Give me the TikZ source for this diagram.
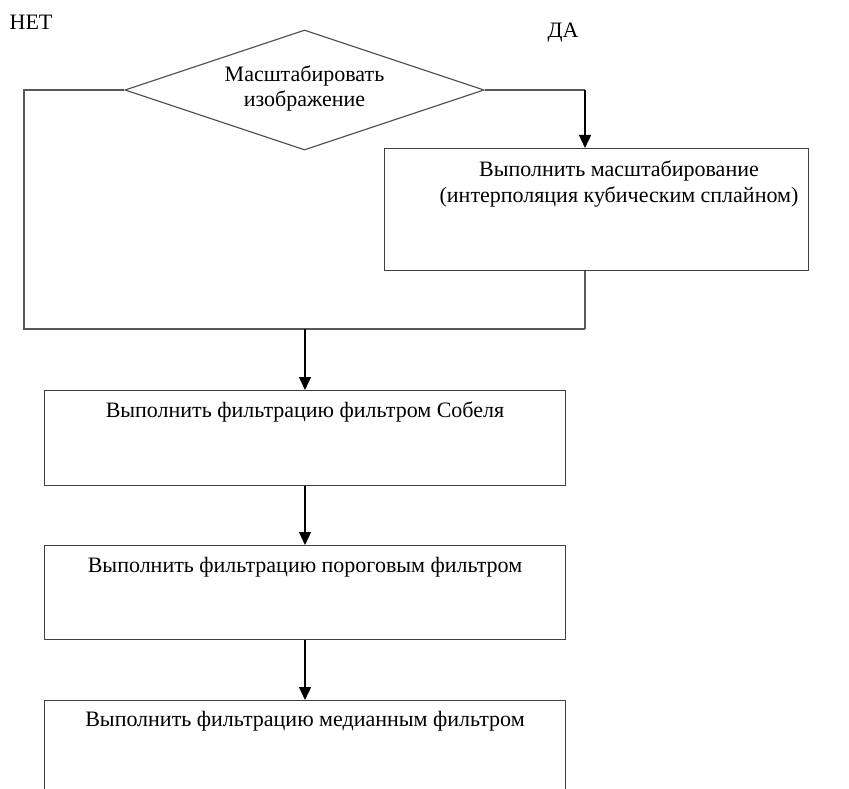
\documentclass[tikz,border=0pt]{standalone}
\usepackage{fontspec}
\setmainfont{Liberation Serif}
\usetikzlibrary{shapes.geometric,arrows.meta}
\begin{document}
\begin{tikzpicture}[x=1pt,y=-1pt,
  ln/.style={draw=black!65,line width=1.3pt},
  arr/.style={draw=black,line width=1.3pt,-{Triangle[length=13pt,width=12pt]}},
  box/.style={draw=black!75,line width=1.3pt,rectangle,inner sep=0pt,anchor=north west},
  txt/.style={font=\fontsize{22}{25}\selectfont,align=center,inner sep=0pt},
  dia/.style={draw=black!70,line width=1.1pt,diamond,inner sep=0pt,minimum width=359pt,minimum height=120pt}]
\useasboundingbox (0,0) rectangle (849,789);
\clip (0,0) rectangle (849,789);
\node[txt] (net) at (31,22) {НЕТ};
\node[txt] (da) at (563,33) {ДА};
\node[dia] (d) at (304.5,90) {};
\node[txt] (dt) at (304.5,88) {Масштабировать\\изображение};
\node[box,minimum width=424pt,minimum height=122pt] (b1) at (384,148) {};
\node[txt] (t1) at (619,184) {Выполнить масштабирование\\(интерполяция кубическим сплайном)};
\coordinate (L1) at (24,90);
\coordinate (L2) at (24,329);
\coordinate (R1) at (585,90);
\coordinate (R2) at (585,329);
\coordinate (M) at (305,329);
\node[box,minimum width=521pt,minimum height=95pt] (b2) at (44,390) {};
\node[txt] (t2) at (305,412) {Выполнить фильтрацию фильтром Собеля};
\node[box,minimum width=521pt,minimum height=94pt] (b3) at (44,545) {};
\node[txt] (t3) at (305,567) {Выполнить фильтрацию пороговым фильтром};
\node[box,minimum width=521pt,minimum height=120pt] (b4) at (44,700) {};
\node[txt] (t4) at (305,721) {Выполнить фильтрацию медианным фильтром};
\draw[ln] (d.west) -- (L1) -- (L2) -- (R2);
\draw[ln] (d.east) -- (R1);
\draw[arr] (R1) -- (R1 |- b1.north);
\draw[ln] (R1 |- b1.south) -- (R2);
\draw[arr] (M) -- (M |- b2.north);
\draw[arr] (M |- b2.south) -- (M |- b3.north);
\draw[arr] (M |- b3.south) -- (M |- b4.north);
\end{tikzpicture}
\end{document}
